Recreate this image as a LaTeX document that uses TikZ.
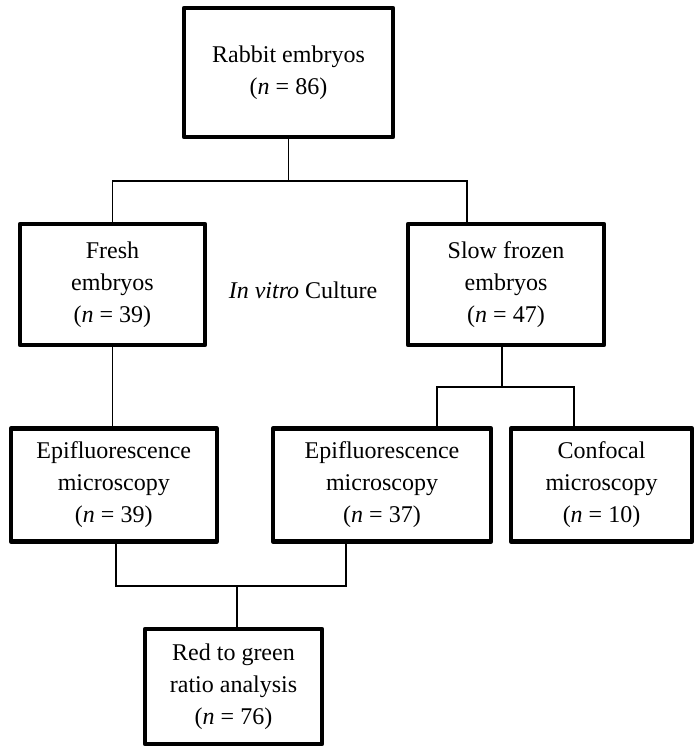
\documentclass[tikz,border=0pt]{standalone}
\usepackage{fontspec}
\setmainfont{Liberation Serif}

\begin{document}
\begin{tikzpicture}[
      x=0.5pt, y=-0.5pt,
      every node/.style={font=\fontsize{12}{16}\selectfont},
      box/.style={rectangle, draw, line width=2.2pt, line join=round, align=center, inner sep=2pt, minimum height=56.5pt},
      link/.style={line width=0.6pt}
    ]
      \useasboundingbox (0,0) rectangle (695,748);
      % boxes
      \node[box, minimum width=104.5pt, minimum height=64.5pt] (rabbit) at (288.5,72.5) {Rabbit embryos\\(\textit{n} = 86)};
      \node[box, minimum width=92.5pt, minimum height=60.5pt] (fresh) at (112.5,284.5) {Fresh\\embryos\\(\textit{n} = 39)};
      \node[box, minimum width=98pt, minimum height=60.5pt] (slow) at (506,284.5) {Slow frozen\\embryos\\(\textit{n} = 47)};
      \node (culture) at (303,290) {\textit{In vitro} Culture};
      \node[box, minimum width=103pt] (epifresh) at (113.75,485) {Epifluorescence\\microscopy\\(\textit{n} = 39)};
      \node[box, minimum width=109pt] (epislow) at (382,485) {Epifluorescence\\microscopy\\(\textit{n} = 37)};
      \node[box, minimum width=90.5pt] (confocal) at (601.5,485) {Confocal\\microscopy\\(\textit{n} = 10)};
      \node[box, minimum width=88.5pt, minimum height=57.5pt] (ratio) at (233.5,686.5) {Red to green\\ratio analysis\\(\textit{n} = 76)};
      % junctions
      \coordinate (splitTop) at (288.5,181);
      \coordinate (slowIn) at (467,224);
      \coordinate (slowOut) at (502,345);
      \coordinate (splitSlow) at (502,387);
      \coordinate (epiIn) at (437,428);
      \coordinate (confIn) at (574,428);
      \coordinate (freshOut) at (116,541);
      \coordinate (slowEpiOut) at (346,541);
      \coordinate (splitRatio) at (237,586);
      % connectors
      \draw[link] (rabbit.south) -- (splitTop);
      \draw[link] (fresh.north) |- (splitTop) -| (slowIn);
      \draw[link] (fresh.south) -- (fresh.south |- epifresh.north);
      \draw[link] (slowOut) -- (splitSlow);
      \draw[link] (epiIn) |- (splitSlow) -| (confIn);
      \draw[link] (freshOut) |- (splitRatio) -| (slowEpiOut);
      \draw[link] (splitRatio) -- (splitRatio |- ratio.north);
    \end{tikzpicture}
\end{document}
